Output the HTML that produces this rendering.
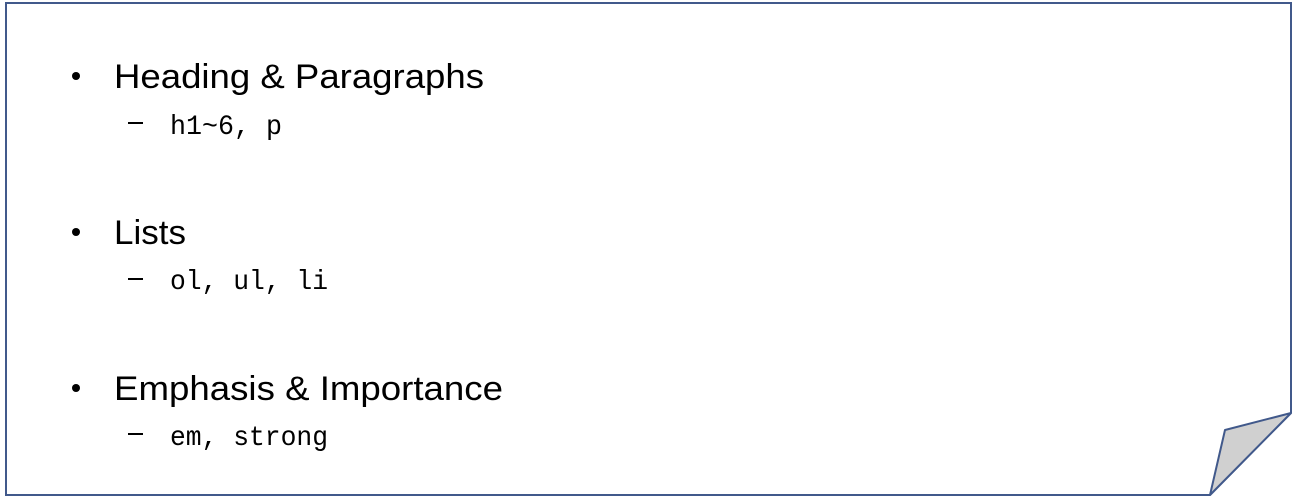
<!DOCTYPE html>
<html><head><meta charset="utf-8"><style>html,body{margin:0;padding:0;background:#fff}svg{display:block}</style></head><body>
<svg width="1293" height="498" viewBox="0 0 1293 498" xmlns="http://www.w3.org/2000/svg">
<path d="M6,3 H1291 V413 L1210,495 H6 Z" fill="#fff" stroke="#41598b" stroke-width="2"/>
<path d="M1291,413 L1225,430 L1210,495 Z" fill="#d0d0d0" stroke="#41598b" stroke-width="2" stroke-linejoin="round"/>
<g font-family="Liberation Sans, sans-serif" font-size="34" fill="#000">
<circle cx="76" cy="76" r="4"/>
<text x="114" y="88" textLength="370" lengthAdjust="spacingAndGlyphs">Heading &amp; Paragraphs</text>
<circle cx="76" cy="232" r="4"/>
<text x="114" y="244" textLength="72" lengthAdjust="spacingAndGlyphs">Lists</text>
<circle cx="76" cy="388" r="4"/>
<text x="114" y="400" textLength="389" lengthAdjust="spacingAndGlyphs">Emphasis &amp; Importance</text>
</g>
<g stroke="#000" stroke-width="2">
<line x1="128" y1="123" x2="143" y2="123"/>
<line x1="128" y1="279" x2="143" y2="279"/>
<line x1="128" y1="434" x2="143" y2="434"/>
</g>
<g font-family="Liberation Mono, monospace" font-size="28" fill="#000">
<text x="170" y="134" textLength="112" lengthAdjust="spacingAndGlyphs">h1~6, p</text>
<text x="170" y="289" textLength="158" lengthAdjust="spacingAndGlyphs">ol, ul, li</text>
<text x="170" y="445" textLength="158" lengthAdjust="spacingAndGlyphs">em, strong</text>
</g>
</svg>
</body></html>
